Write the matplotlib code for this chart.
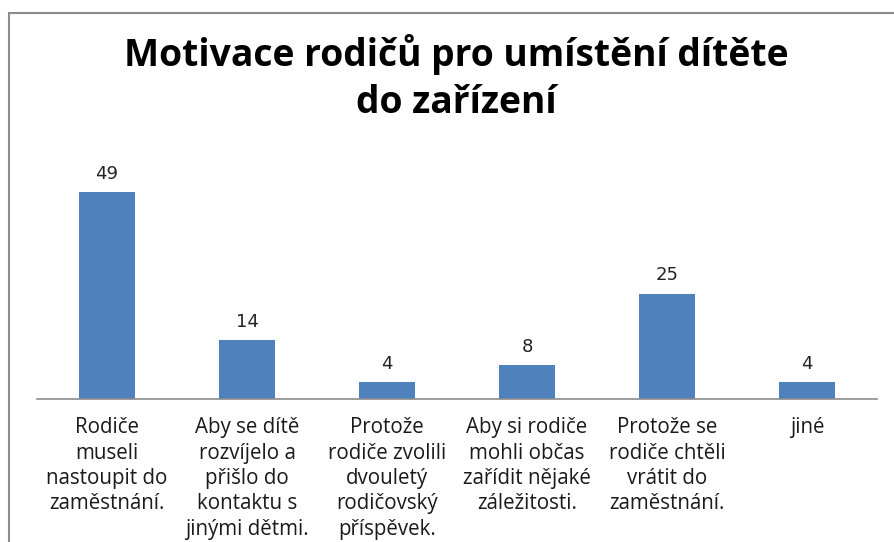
import matplotlib.pyplot as plt
from matplotlib.patches import Rectangle

categories = [
    "Rodiče\nmuseli\nnastoupit do\nzaměstnání.",
    "Aby se dítě\nrozvíjelo a\npřišlo do\nkontaktu s\njinými dětmi.",
    "Protože\nrodiče zvolili\ndvouletý\nrodičovský\npříspěvek.",
    "Aby si rodiče\nmohli občas\nzařídit nějaké\nzáležitosti.",
    "Protože se\nrodiče chtěli\nvrátit do\nzaměstnání.",
    "jiné",
]
values = [49, 14, 4, 8, 25, 4]
title = "Motivace rodičů pro umístění dítěte\ndo zařízení"

W, H = 895, 542
fig = plt.figure(figsize=(W / 100, H / 100), dpi=100)

# chart border (cropped at right and bottom)
fig.patches.append(Rectangle((9 / W, -0.1), 1.2, (H - 13) / H + 0.1,
                             transform=fig.transFigure, fill=False,
                             edgecolor="#8c8c8c", lw=1.5))

# plot area: x 37..877 px, baseline y=399, 60 units -> 253 px
ax = fig.add_axes([37 / W, (H - 399) / H, 840 / W, 253 / H])
x = range(len(values))
ax.bar(x, values, width=0.4, color="#4F81BD")
ax.set_xlim(-0.5, len(values) - 0.5)
ax.set_ylim(0, 60)

for xi, v in zip(x, values):
    ax.text(xi, v + 2.2, str(v), ha="center", va="bottom",
            fontsize=13, family="DejaVu Sans", color="#222222")

ax.set_xticks(list(x))
ax.set_xticklabels(categories, family="Open Sans", fontsize=14.8, linespacing=1.28,
                   va="top", color="#1a1a1a")
ax.tick_params(axis="x", length=0, pad=13)
ax.set_yticks([])
for s in ["top", "right", "left"]:
    ax.spines[s].set_visible(False)
ax.spines["bottom"].set_color("#8c8c8c")
ax.spines["bottom"].set_linewidth(1.2)

fig.text(456 / W, 1 - 78 / H, title, ha="center", va="center",
         fontsize=26.8, fontweight="bold", family="Open Sans", linespacing=1.3)

fig.savefig("out.png", dpi=100)
